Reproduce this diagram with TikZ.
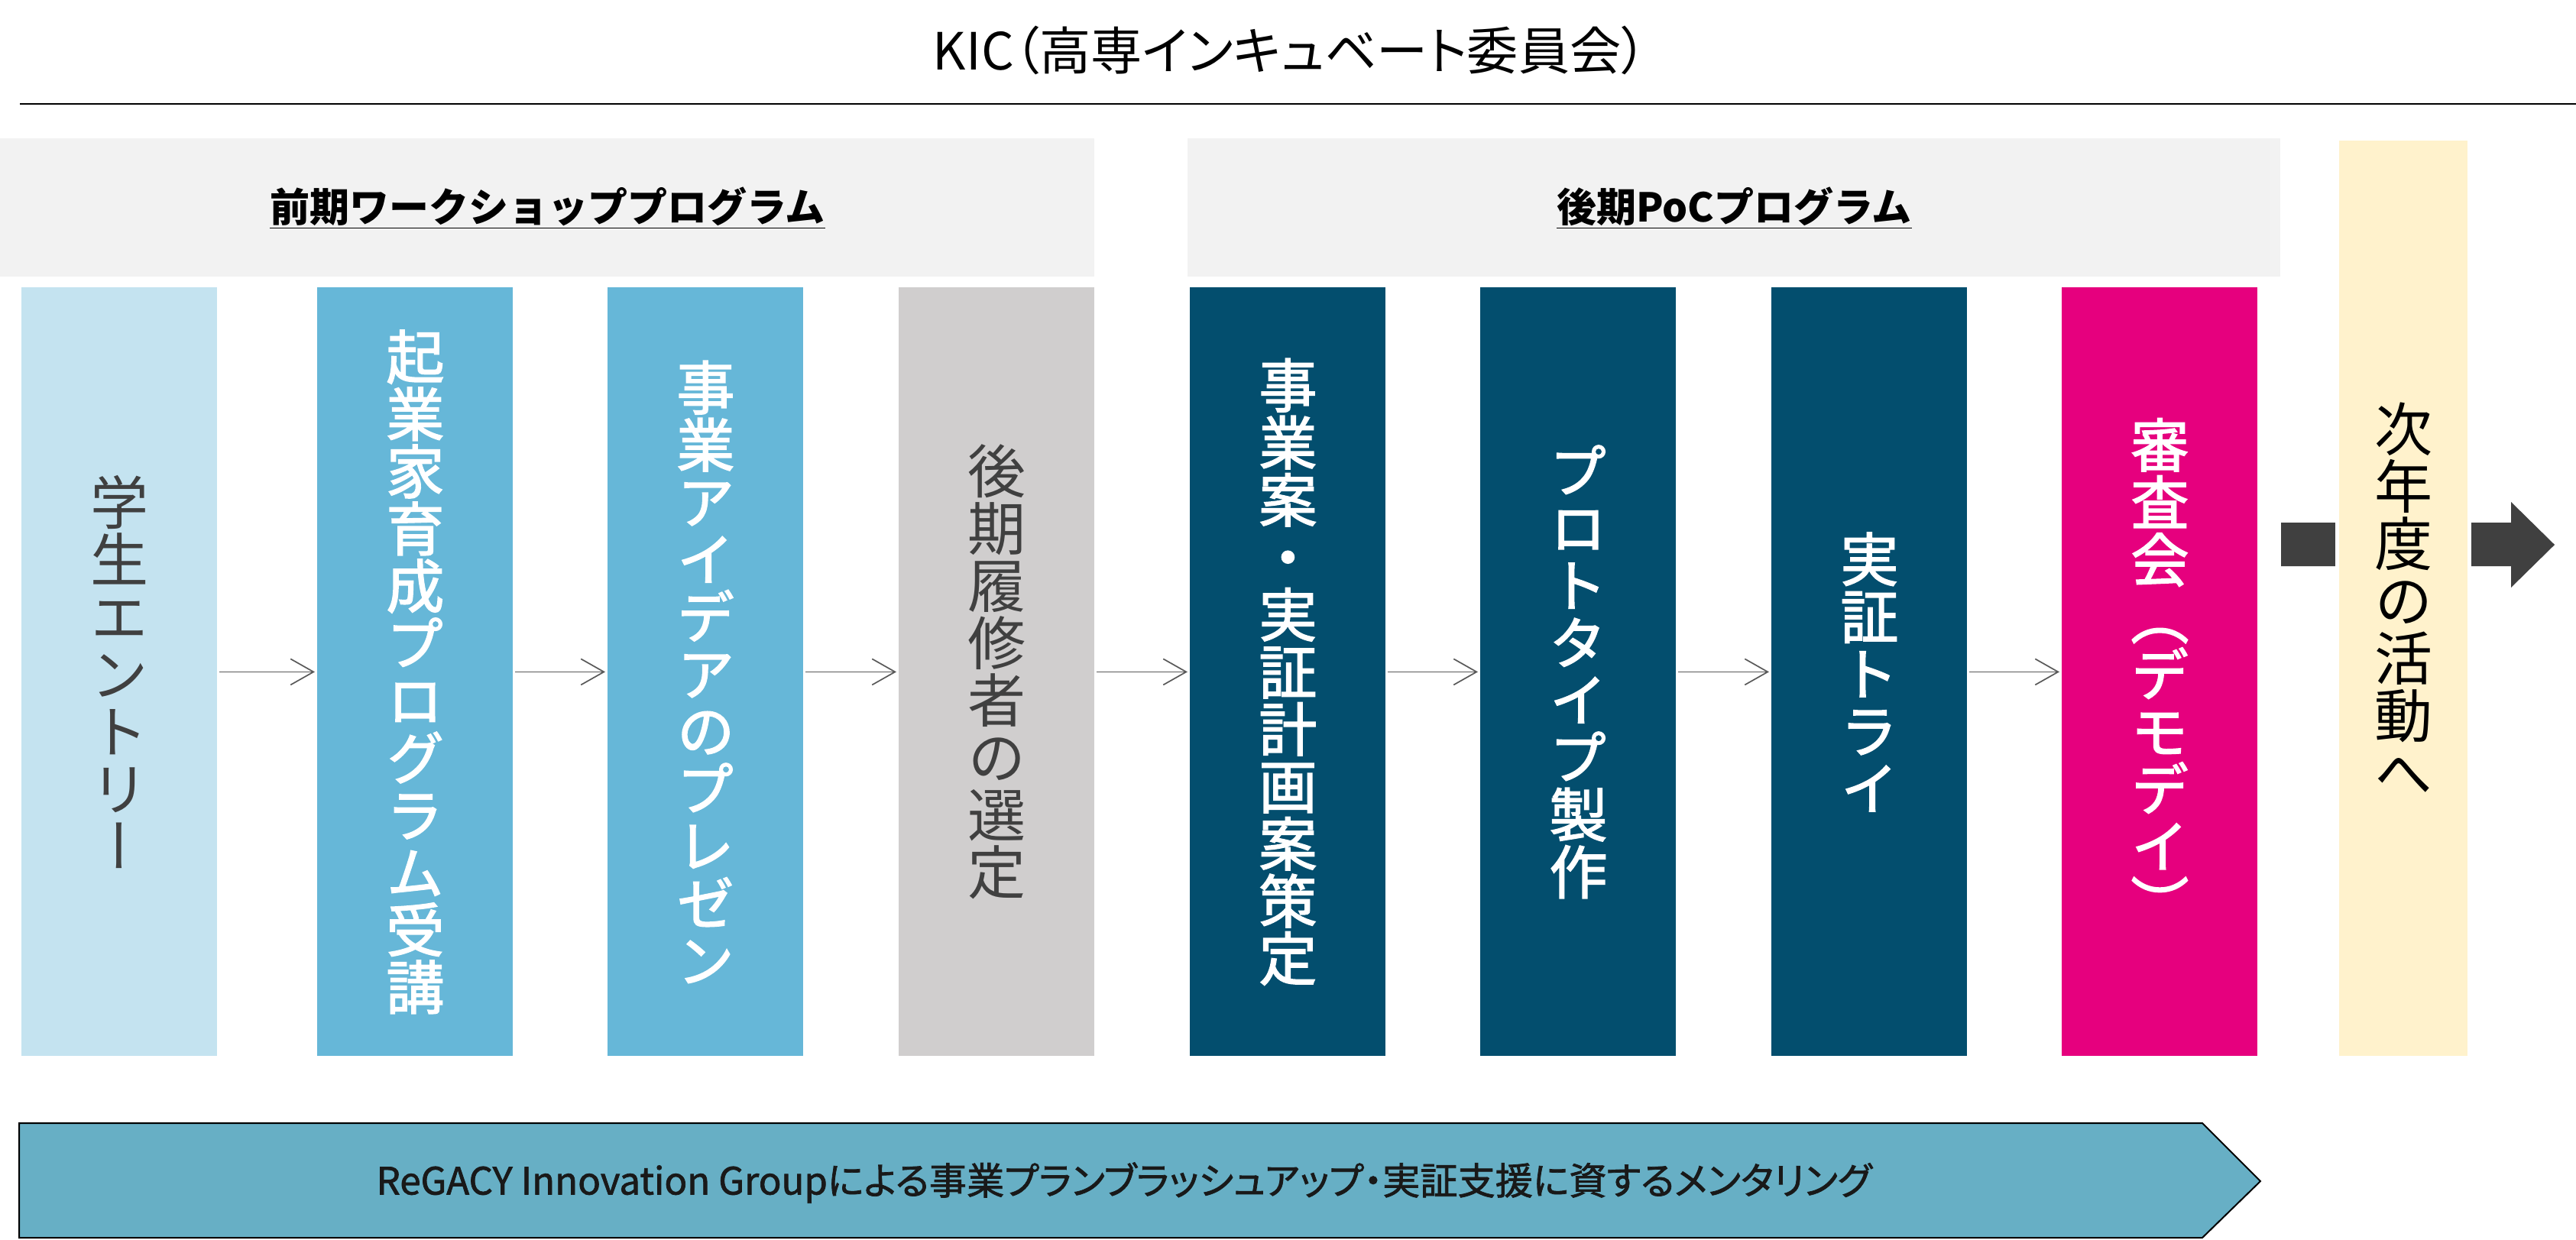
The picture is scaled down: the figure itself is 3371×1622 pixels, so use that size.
\documentclass[tikz,border=0pt]{standalone}
\usepackage{fontspec}
\setmainfont{Noto Sans CJK JP}
\newfontfamily\vjp[RawFeature=+vert]{Noto Sans CJK JP}
\newfontfamily\pjp[RawFeature=+palt]{Noto Sans CJK JP}
\font\wcolfont="Noto Sans CJK JP:+vert;embolden=2" at 38pt
\font\bannerfont="Noto Sans CJK JP:+palt;embolden=1.5" at 24.6pt
\newcommand\wcolsetup{\wcolfont\baselineskip37.5pt\relax}
\usetikzlibrary{arrows.meta}
\definecolor{hdrgray}{HTML}{F2F2F2}
\definecolor{cola}{HTML}{C4E3F0}
\definecolor{colb}{HTML}{66B7D8}
\definecolor{colc}{HTML}{D0CECE}
\definecolor{cold}{HTML}{034E6E}
\definecolor{cole}{HTML}{E6007E}
\definecolor{yel}{HTML}{FFF2CC}
\definecolor{txtgray}{HTML}{404040}
\definecolor{arrgray}{HTML}{595959}
\definecolor{bigarr}{HTML}{404040}
\definecolor{banner}{HTML}{67AFC5}
\begin{document}
\begin{tikzpicture}[x=0.5pt,y=-0.5pt,
  colbox/.style={minimum width=128pt, minimum height=503pt, inner sep=0pt, anchor=north west,
    align=center, font=\wcolsetup, text=white},
  graytxt/.style={font=\vjp\fontsize{38}{37.5}\selectfont, text=txtgray},
  hdr/.style={fill=hdrgray, minimum height=90.5pt, inner sep=0pt, anchor=north west,
    font=\bfseries\fontsize{26}{30}\selectfont},
  flow/.style={draw=arrgray, line width=0.85pt, -{Straight Barb[length=15pt,width=17pt]},
    shorten >=1.5pt, shorten <=1pt}]
\useasboundingbox (0,0) rectangle (3371,1622);

% title
\node[font=\pjp\fontsize{33.6}{38}\selectfont] (title) at (1688,66) {KIC（高専インキュベート委員会）};
\coordinate (rl) at (26,136);
\coordinate (rr) at (3371,136);
\draw[line width=1.35pt] (rl) -- (rr);

% headers
\node[hdr, minimum width=716pt] (h1) at (0,181) {\underline{前期ワークショッププログラム}};
\node[hdr, minimum width=715pt] (h2) at (1554,181) {\underline{後期PoCプログラム}};

% columns
\node[colbox, fill=cola, graytxt] (c1) at (28,376) {学\\生\\エ\\ン\\ト\\リ\\ー};
\node[colbox, fill=colb] (c2) at (415,376) {起\\業\\家\\育\\成\\プ\\ロ\\グ\\ラ\\ム\\受\\講};
\node[colbox, fill=colb] (c3) at (795,376) {事\\業\\ア\\イ\\デ\\ア\\の\\プ\\レ\\ゼ\\ン};
\node[colbox, fill=colc, graytxt] (c4) at (1176,376) {後\\期\\履\\修\\者\\の\\選\\定};
\node[colbox, fill=cold] (c5) at (1557,376) {事\\業\\案\\・\\実\\証\\計\\画\\案\\策\\定};
\node[colbox, fill=cold] (c6) at (1937,376) {プ\\ロ\\ト\\タ\\イ\\プ\\製\\作};
\node[colbox, fill=cold] (c7) at (2318,376) {実\\証\\ト\\ラ\\イ};
\node[colbox, fill=cole] (c8) at (2698,376) {審\\査\\会\\（\\デ\\モ\\デ\\イ\\）};

\draw[flow] (c1) -- (c2);
\draw[flow] (c2) -- (c3);
\draw[flow] (c3) -- (c4);
\draw[flow] (c4) -- (c5);
\draw[flow] (c5) -- (c6);
\draw[flow] (c6) -- (c7);
\draw[flow] (c7) -- (c8);

% big arrow behind the next-year box
\fill[bigarr] (2985,684) -- (3286,684) -- (3286,657) -- (3343,713) -- (3286,769) -- (3286,741) -- (2985,741) -- cycle;
\fill[white] (3056,600) rectangle (3234,800);

\node[minimum width=84pt, minimum height=599pt, inner sep=0pt, anchor=north west,
  fill=yel, align=center,
  font=\vjp\fontsize{38}{37.5}\selectfont] (next) at (3061,184) {次\\年\\度\\の\\活\\動\\へ};

% bottom banner
\filldraw[fill=banner, draw=black, line width=1pt] (25,1470) -- (2882,1470) -- (2958,1546) -- (2882,1620) -- (25,1620) -- cycle;
\node[font=\bannerfont, text=black!90] (btxt) at (1471,1548) {ReGACY Innovation Groupによる事業プランブラッシュアップ・実証支援に資するメンタリング};
\end{tikzpicture}
\end{document}
